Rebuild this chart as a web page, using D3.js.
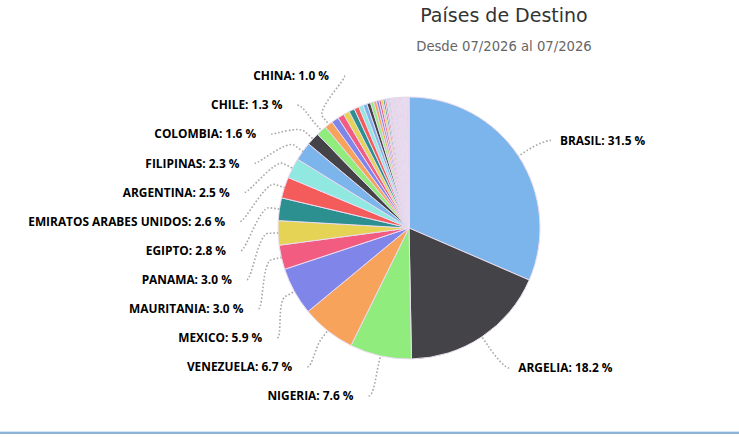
<!DOCTYPE html>
<html>
<head>
<meta charset="utf-8">
<script src="https://cdn.jsdelivr.net/npm/d3@7"></script>
<style>
  body { margin: 0; background: #fff; }
  svg { display: block; }
</style>
</head>
<body>
<div id="chart"></div>
<script>
// Labelled countries (percent of total)
let countries = ["BRASIL", "ARGELIA", "NIGERIA", "VENEZUELA", "MEXICO", "MAURITANIA", "PANAMA",
    "EGIPTO", "EMIRATOS ARABES UNIDOS", "ARGENTINA", "FILIPINAS", "COLOMBIA", "CHILE", "CHINA"];
let shares = [31.5, 18.2, 7.6, 6.7, 5.9, 3.0, 3.0, 2.8, 2.6, 2.5, 2.3, 1.6, 1.3, 1.0];

// small destinations drawn without a label (label hidden, too crowded)
let smallShares = [0.9, 0.8, 0.75, 0.7, 0.6, 0.55, 0.5, 0.45, 0.4, 0.35, 0.3, 0.28, 0.25, 0.22, 0.2, 0.18, 0.15, 0.12];
let tinyShares = [0.11, 0.1, 0.1, 0.1, 0.09, 0.09, 0.09, 0.08, 0.08, 0.08, 0.08, 0.08, 0.07, 0.07, 0.07,
    0.07, 0.07, 0.07, 0.07, 0.06, 0.06, 0.06, 0.06, 0.06, 0.06, 0.05, 0.05, 0.05, 0.05, 0.05, 0.04, 0.04, 0.04];

let titleText = "Países de Destino";
let subtitleText = "Desde 07/2026 al 07/2026";

let palette = ["#7cb5ec", "#434348", "#90ed7d", "#f7a35c", "#8085e9",
    "#f15c80", "#e4d354", "#2b908f", "#f45b5b", "#91e8e1"];

let width = 739,
    height = 437,
    cx = 409,
    cy = 228,
    radius = 131;

let data = countries.map((c, i) => ({ name: c, value: shares[i], label: true }))
    .concat(smallShares.map(v => ({ name: "", value: v, label: false })))
    .concat(tinyShares.map(v => ({ name: "", value: v, label: false })));

let svg = d3.select("#chart")
    .append("svg")
    .attr("width", width)
    .attr("height", height);

// title
svg.append("text")
    .attr("x", 504)
    .attr("y", 22)
    .attr("text-anchor", "middle")
    .style("font-family", "'DejaVu Sans', Verdana, sans-serif")
    .style("font-size", "19px")
    .style("fill", "#333333")
    .text(titleText);

svg.append("text")
    .attr("x", 504)
    .attr("y", 51)
    .attr("text-anchor", "middle")
    .style("font-family", "'DejaVu Sans', Verdana, sans-serif")
    .style("font-size", "13.2px")
    .style("fill", "#666666")
    .text(subtitleText);

let pie = d3.pie().sort(null).value(d => d.value);
let arcs = pie(data);

let arc = d3.arc().innerRadius(0).outerRadius(radius);

let g = svg.append("g").attr("transform", `translate(${cx},${cy})`);

g.selectAll("path")
    .data(arcs)
    .join("path")
    .attr("d", arc)
    .attr("fill", (d, i) => palette[i % palette.length])
    .attr("stroke", "#eadcf0")
    .attr("stroke-width", 1)
    .attr("stroke-linejoin", "round");

// ---- data labels ----
let labelDist = 34,     // natural label radius offset
    yShift = 3,
    connRadius = 169,   // where connector meets the label
    boxShift = 4,       // label box top vs text middle
    breakOff = 10,
    spacing = 29.1,
    topBound = 76,
    bottomBound = 400;

let labelled = arcs.filter(d => d.data.label).map(d => {
    let mid = (d.startAngle + d.endAngle) / 2;
    return {
        d: d,
        mid: mid,
        left: mid > Math.PI,
        target: -Math.cos(mid) * (radius + labelDist) + cy + yShift
    };
});

// spread labels of one side so they don't overlap
function distribute(items) {
    items.sort((a, b) => a.target - b.target);
    let clusters = items.map(it => ({ items: [it], target: it.target }));
    let changed = true;
    while (changed) {
        changed = false;
        clusters.forEach(c => {
            let n = c.items.length;
            c.y0 = d3.mean(c.items, (it, k) => it.target - k * spacing);
            c.y0 = Math.max(topBound, Math.min(bottomBound - (n - 1) * spacing, c.y0));
        });
        for (let i = 0; i < clusters.length - 1; i++) {
            let a = clusters[i], b = clusters[i + 1];
            if (a.y0 + a.items.length * spacing > b.y0) {
                a.items = a.items.concat(b.items);
                clusters.splice(i + 1, 1);
                changed = true;
                break;
            }
        }
    }
    clusters.forEach(c => c.items.forEach((it, k) => it.y = c.y0 + k * spacing));
}

distribute(labelled.filter(l => l.left));
distribute(labelled.filter(l => !l.left));

let labelG = svg.append("g");

labelled.forEach(l => {
    let dy = l.y - boxShift - cy;
    let dx = Math.sqrt(Math.max(0, connRadius * connRadius - dy * dy));
    let xc = l.left ? cx - dx : cx + dx;
    let sx = Math.sin(l.mid), sy = -Math.cos(l.mid);
    let touch = [cx + sx * radius, cy + sy * radius];
    let brk = [cx + sx * (radius + breakOff), cy + sy * (radius + breakOff)];
    let path = d3.path();
    path.moveTo(xc, l.y);
    path.bezierCurveTo(xc + (l.left ? 5 : -5), l.y, 2 * brk[0] - touch[0], 2 * brk[1] - touch[1], brk[0], brk[1]);
    path.lineTo(touch[0], touch[1]);

    labelG.append("path")
        .attr("d", path.toString())
        .attr("fill", "none")
        .attr("stroke", "#a8a8a8")
        .attr("stroke-width", 1.6)
        .attr("stroke-dasharray", "1.6,2");

    labelG.append("text")
        .attr("x", l.left ? xc - 15 : xc + 9)
        .attr("y", l.y)
        .attr("dy", "0.36em")
        .attr("text-anchor", l.left ? "end" : "start")
        .style("font-family", "'Open Sans', 'DejaVu Sans', sans-serif")
        .style("font-size", "11.9px")
        .style("font-weight", "bold")
        .style("fill", "#000000")
        .text(`${l.d.data.name}: ${l.d.data.value.toFixed(1)} %`);
});

// bottom rule
svg.append("rect")
    .attr("x", 0).attr("y", 431)
    .attr("width", width).attr("height", 1)
    .attr("fill", "#d4e6f5");
svg.append("rect")
    .attr("x", 0).attr("y", 432)
    .attr("width", width).attr("height", 2)
    .attr("fill", "#8db3d6");
</script>
</body>
</html>
